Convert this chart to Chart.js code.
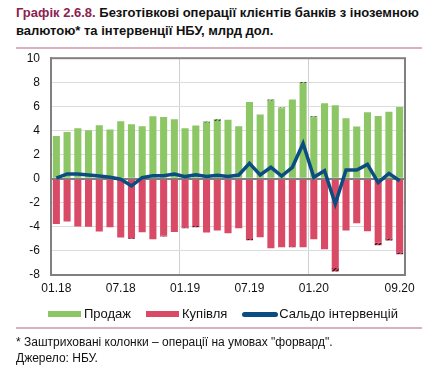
<!DOCTYPE html>
<html>
<head>
<meta charset="utf-8">
<script src="https://cdn.jsdelivr.net/npm/chart.js@4/dist/chart.umd.min.js"></script>
<style>
  body { margin: 0; width: 440px; height: 375px; background: #fff; font-family: "Liberation Sans", Arial, sans-serif; position: relative; overflow: hidden; }
  .title { position: absolute; left: 16px; top: 4px; width: 420px; font-size: 13px; font-weight: bold; line-height: 18px; color: #111; }
  .title span { color: #8c2250; }
  .rule { position: absolute; left: 16px; width: 406px; height: 2px; background: #dcb0bf; }
  .note { position: absolute; left: 16px; top: 334px; font-size: 12px; line-height: 16px; color: #111; }
  #wrap { position: absolute; left: 0; top: 40px; width: 440px; height: 293px; }
  .legend { position: absolute; left: 48px; top: 306px; display: flex; align-items: center; font-size: 13px; line-height: 16px; color: #111; }
  .legend i { display: inline-block; width: 33px; height: 6px; margin-right: 3px; }
  .legend i.ln { width: 36px; height: 5px; border-radius: 3px; margin-right: 1px; }
  .legend b { font-weight: normal; margin-right: 15px; }
</style>
</head>
<body>
<div class="title"><span>Графік 2.6.8.</span> Безготівкові операції клієнтів банків з іноземною валютою* та інтервенції НБУ, млрд дол.</div>
<div class="rule" style="top:47px"></div>
<div id="wrap"><canvas id="chart"></canvas></div>
<div class="legend" id="legend"></div>
<div class="rule" style="top:327px"></div>
<div class="note">* Заштриховані колонки – операції на умовах "форвард".<br>Джерело: НБУ.</div>
<script>
// місяці 01.18 - 09.20
const months = ['01.18','02.18','03.18','04.18','05.18','06.18','07.18','08.18','09.18','10.18','11.18','12.18',
  '01.19','02.19','03.19','04.19','05.19','06.19','07.19','08.19','09.19','10.19','11.19','12.19',
  '01.20','02.20','03.20','04.20','05.20','06.20','07.20','08.20','09.20']
const shownLabels = ['01.18','07.18','01.19','07.19','01.20','09.20']

// продаж (усього) і його форвардна частина
const sales = [3.55,3.88,4.19,4.02,4.44,4.08,4.77,4.52,4.35,5.18,5.12,4.93,4.19,4.41,4.74,4.93,4.90,4.35,
  6.36,5.32,6.58,5.90,6.58,8.02,5.18,6.25,6.09,5.01,4.33,5.51,5.21,5.56,5.95]
const salesForward = [0,0,0,0,0,0,0,0,0,0,0,0,0,0,0.1,0.15,0,0,0,0,0.12,0.06,0,0.12,0.1,0,0,0,0,0,0,0,0]

// купівля (усього) і її форвардна частина
const purchases = [-3.76,-3.56,-3.98,-4.00,-4.39,-4.03,-4.89,-5.00,-4.45,-5.03,-4.81,-4.42,-4.12,-4.03,-4.48,-4.31,-4.53,-4.12,
  -5.11,-4.86,-5.77,-5.69,-5.69,-5.69,-5.03,-5.86,-7.71,-4.31,-3.70,-4.36,-5.52,-5.14,-6.27]
const purchasesForward = [0,0,0,0,0,0,0,-0.08,0,0,-0.08,0,-0.08,-0.1,0,0,0,0,-0.1,0,0,0,-0.08,0,0,0,-0.3,0,0,0,-0.2,-0.2,-0.15]

// сальдо інтервенцій
const saldo = [0.05,0.39,0.39,0.30,0.22,0.11,-0.05,-0.6,0.08,0.25,0.25,0.39,0.17,0.33,0.17,0.28,0.17,0.30,
  1.27,0.30,0.94,0.22,0.94,2.92,0.11,0.66,-2.1,0.72,0.72,1.18,-0.33,0.44,-0.17]

const green = '#8cc665'
const red = '#d94a66'
const blue = '#0b4d80'

function hatch(base, stroke) {
  const c = document.createElement('canvas')
  c.width = 4; c.height = 4
  const g = c.getContext('2d')
  g.fillStyle = base
  g.fillRect(0, 0, 4, 4)
  g.strokeStyle = stroke
  g.lineWidth = 1.3
  g.beginPath()
  g.moveTo(0, 4); g.lineTo(4, 0)
  g.moveTo(-1, 1); g.lineTo(1, -1)
  g.moveTo(3, 5); g.lineTo(5, 3)
  g.stroke()
  return g.createPattern(c, 'repeat')
}

const salesSpot = sales.map((v, i) => v - salesForward[i])
const purchasesSpot = purchases.map((v, i) => v - purchasesForward[i])

// рамка навколо області графіка
const frame = {
  id: 'frame',
  afterDatasetsDraw(chart) {
    const a = chart.chartArea, ctx = chart.ctx
    ctx.save()
    ctx.strokeStyle = '#808080'
    ctx.lineWidth = 2
    ctx.strokeRect(a.left, a.top, a.right - a.left, a.bottom - a.top)
    ctx.restore()
  }
}

const chart = new Chart(document.getElementById('chart'), {
  type: 'bar',
  data: {
    labels: months,
    datasets: [
      { label: 'Продаж', data: salesSpot, backgroundColor: green, order: 1 },
      { label: 'fwd1', data: salesForward, backgroundColor: hatch(green, '#2d4a24'), order: 1 },
      { label: 'Купівля', data: purchasesSpot, backgroundColor: red, order: 1 },
      { label: 'fwd2', data: purchasesForward, backgroundColor: hatch(red, '#3a1020'), order: 1 },
      { type: 'line', label: 'Сальдо інтервенцій', data: saldo, borderColor: blue, backgroundColor: blue,
        borderWidth: 3.5, pointRadius: 0, tension: 0, stack: 'saldo', order: 0 }
    ]
  },
  options: {
    responsive: true,
    maintainAspectRatio: false,
    animation: false,
    datasets: { bar: { categoryPercentage: 1, barPercentage: 0.66 } },
    layout: { padding: { top: 6, right: 35, left: 0, bottom: 39 } },
    scales: {
      x: {
        stacked: true,
        grid: {
          offset: true,
          drawTicks: false,
          color: ctx => (ctx.index === 12 || ctx.index === 24) ? '#d0d0d0' : 'rgba(0,0,0,0)'
        },
        border: { display: true, color: '#808080', width: 2 },
        ticks: {
          autoSkip: false, maxRotation: 0, padding: 6, color: '#111',
          font: { family: 'Liberation Sans', size: 12 },
          callback: function(v, i) { const l = months[i]; return shownLabels.includes(l) ? l : '' }
        },
        afterFit: s => { s.height = 19 }
      },
      y: {
        stacked: true,
        min: -8, max: 10,
        grid: {
          drawTicks: false,
          color: ctx => ctx.tick.value === 0 ? '#808080' : '#dcdcdc',
          lineWidth: ctx => ctx.tick.value === 0 ? 2 : 1
        },
        border: { color: '#808080', width: 2 },
        ticks: { stepSize: 2, padding: 11, color: '#111', font: { family: 'Liberation Sans', size: 12 } },
        afterFit: s => { s.width = 51 }
      }
    },
    plugins: {
      tooltip: { enabled: false },
      legend: { display: false }
    }
  },
  plugins: [frame]
})

// легенда (без форвардних рядів)
const legendItems = [[0, ''], [2, ''], [4, 'ln']]
document.getElementById('legend').innerHTML = legendItems.map(([i, cls]) => {
  const ds = chart.data.datasets[i]
  return `<i class="${cls}" style="background:${ds.type === 'line' ? ds.borderColor : ds.backgroundColor}"></i><b>${ds.label}</b>`
}).join('')
</script>
</body>
</html>
